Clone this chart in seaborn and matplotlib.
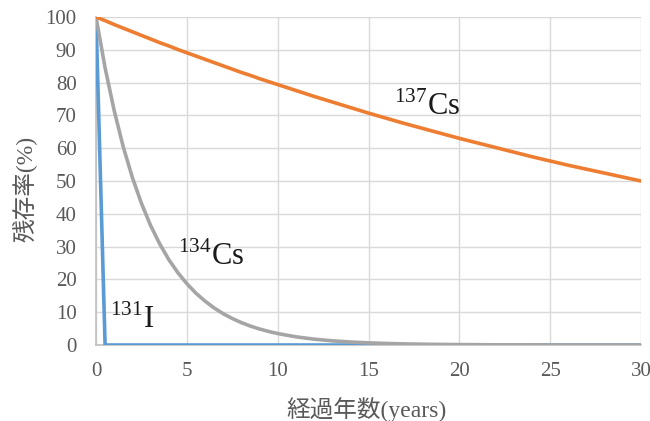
import matplotlib
matplotlib.use("Agg")
import matplotlib.pyplot as plt
import seaborn as sns
import pandas as pd

# Elapsed years (half-year steps for the first decade, yearly after)
years = [0, 0.5, 1, 1.5, 2, 2.5, 3, 3.5, 4, 4.5, 5, 5.5, 6, 6.5, 7, 7.5, 8, 8.5, 9, 9.5, 10,
         11, 12, 13, 14, 15, 16, 17, 18, 19, 20, 21, 22, 23, 24, 25, 26, 27, 28, 29, 30]

# Remaining fraction (%) of each nuclide
cs137 = [100, 98.9, 97.7, 96.6, 95.5, 94.4, 93.3, 92.2, 91.2, 90.1, 89.1, 88.1, 87.1, 86.1,
         85.1, 84.1, 83.1, 82.2, 81.2, 80.3, 79.4,
         77.6, 75.8, 74.1, 72.4, 70.7, 69.1, 67.5, 66.0, 64.5, 63.0, 61.6, 60.2, 58.8, 57.4,
         56.1, 54.8, 53.6, 52.4, 51.2, 50.0]
cs134 = [100, 84.5, 71.5, 60.4, 51.1, 43.2, 36.5, 30.9, 26.1, 22.1, 18.7, 15.8, 13.4, 11.3,
         9.55, 8.08, 6.83, 5.77, 4.88, 4.13, 3.49,
         2.50, 1.78, 1.27, 0.91, 0.65, 0.46, 0.33, 0.24, 0.17, 0.12, 0.09, 0.06, 0.04, 0.03,
         0.02, 0.01, 0.01, 0.01, 0.0, 0.0]
i131 = [100, 0, 0, 0, 0, 0, 0, 0, 0, 0, 0, 0, 0, 0, 0, 0, 0, 0, 0, 0, 0,
        0, 0, 0, 0, 0, 0, 0, 0, 0, 0, 0, 0, 0, 0, 0, 0, 0, 0, 0, 0]

x_ticks = [0, 5, 10, 15, 20, 25, 30]
y_ticks = [0, 10, 20, 30, 40, 50, 60, 70, 80, 90, 100]

sns.set_style("white")
plt.rcParams["font.family"] = ["Liberation Serif", "Noto Sans CJK JP"]
plt.rcParams["mathtext.fontset"] = "custom"
plt.rcParams["mathtext.rm"] = "Liberation Serif"

df = pd.DataFrame({"year": years, "Cs137": cs137, "Cs134": cs134, "I131": i131})

fig = plt.figure(figsize=(6.5, 4.21), dpi=100)
ax = fig.add_axes([96 / 650, 1 - 345 / 421, (641 - 96) / 650, (345 - 17) / 421])

sns.lineplot(data=df, x="year", y="I131", ax=ax, color="#5B9BD5", linewidth=2.6, zorder=3)
sns.lineplot(data=df, x="year", y="Cs134", ax=ax, color="#A5A5A5", linewidth=2.6, zorder=4)
sns.lineplot(data=df, x="year", y="Cs137", ax=ax, color="#ED7D31", linewidth=2.6, zorder=5)

ax.set_xlim(0, 30)
ax.set_ylim(0, 100)
ax.set_xticks(x_ticks)
ax.set_yticks(y_ticks)
ax.grid(True, color="#D9D9D9", linewidth=1.0)
ax.set_axisbelow(True)
for side in ["top", "right"]:
    ax.spines[side].set_visible(False)
for side in ["left", "bottom"]:
    ax.spines[side].set_color("#BFBFBF")
    ax.spines[side].set_linewidth(1.2)
ax.tick_params(axis="both", length=0, labelsize=15, labelcolor="#595959")
ax.tick_params(axis="y", pad=14)
ax.tick_params(axis="x", pad=12)

ax.set_xlabel("経過年数(years)", fontsize=17, color="#595959")
ax.set_ylabel("残存率(%)", fontsize=17, color="#595959")
ax.xaxis.set_label_coords(0.497, -0.158)
ax.yaxis.set_label_coords(-0.108, 0.476)

ax.text(16.4, 72.8, r"$^{137}$Cs", fontsize=22, color="#1a1a1a", ha="left", va="center")
ax.text(4.5, 27.0, r"$^{134}$Cs", fontsize=22, color="#1a1a1a", ha="left", va="center")
ax.text(0.75, 7.6, r"$^{131}$I", fontsize=22, color="#1a1a1a", ha="left", va="center")

fig.savefig("out.png", dpi=100)
